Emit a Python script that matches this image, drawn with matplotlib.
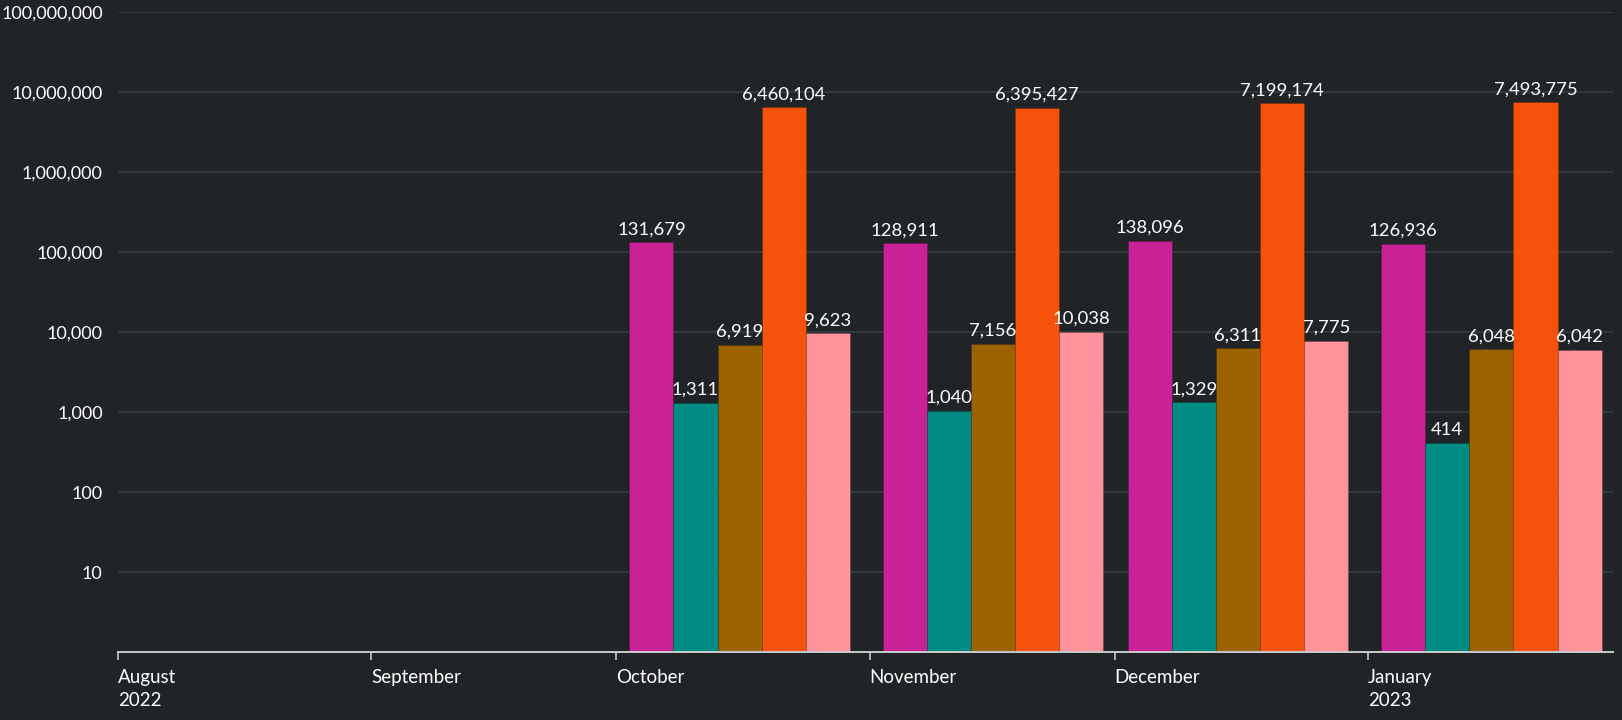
import datetime as dt
import matplotlib
matplotlib.use('Agg')
import matplotlib.pyplot as plt
import matplotlib.dates as mdates
from matplotlib.ticker import FuncFormatter, NullLocator

# data
months = [dt.date(2022, 10, 1), dt.date(2022, 11, 1), dt.date(2022, 12, 1), dt.date(2023, 1, 1)]
series_a = [131679, 128911, 138096, 126936]
series_b = [1311, 1040, 1329, 414]
series_c = [6919, 7156, 6311, 6048]
series_d = [6460104, 6395427, 7199174, 7493775]
series_e = [9623, 10038, 7775, 6042]

tick_months = [dt.date(2022, 8, 1), dt.date(2022, 9, 1), dt.date(2022, 10, 1),
               dt.date(2022, 11, 1), dt.date(2022, 12, 1), dt.date(2023, 1, 1)]
tick_labels = ['August\n2022', 'September', 'October', 'November', 'December', 'January\n2023']

colors = ['#C92196', '#008C82', '#9C6200', '#F6520C', '#FF939B']
bg = '#212427'

plt.rcParams['font.family'] = ['Lato', 'DejaVu Sans']

fig = plt.figure(figsize=(16.22, 7.2), dpi=100, facecolor=bg)
ax = fig.add_axes([0.0727, 0.0944, 0.9218, 0.8889], facecolor=bg)

all_series = [series_a, series_b, series_c, series_d, series_e]
bar_w = 5.4
offset = 1.6
base = [mdates.date2num(m) for m in months]
for i, vals in enumerate(all_series):
    xs = [b + offset + i * bar_w for b in base]
    ax.bar(xs, vals, width=bar_w, align='edge', color=colors[i],
           edgecolor='#00000028', linewidth=0.6, zorder=3)
    for x, v in zip(xs, vals):
        ax.annotate(f'{v:,}', (x + bar_w / 2, v), xytext=(0, 3.5), textcoords='offset points',
                    ha='center', va='bottom', color='white', fontsize=13.3, zorder=4)

ax.set_yscale('log')
ax.set_ylim(1, 1e8)
ax.set_xlim(mdates.date2num(dt.date(2022, 8, 1)), mdates.date2num(dt.date(2023, 1, 31)))

ax.set_yticks([10 ** k for k in range(1, 9)])
ax.yaxis.set_minor_locator(NullLocator())
ax.yaxis.set_major_formatter(FuncFormatter(lambda v, p: f'{v:,.0f}'))
ax.tick_params(axis='y', length=0, pad=11, labelsize=13, labelcolor='white')

ax.set_xticks([mdates.date2num(d) for d in tick_months])
ax.set_xticklabels(tick_labels, ha='left', va='top', linespacing=1.45)
ax.tick_params(axis='x', length=6, width=1.2, color='#C8CBCD', pad=6,
               labelsize=13.5, labelcolor='white')

ax.grid(axis='y', color='#323A3E', linewidth=1.4, zorder=0)
for s in ['top', 'right', 'left']:
    ax.spines[s].set_visible(False)
ax.spines['bottom'].set_color('#C8CBCD')
ax.spines['bottom'].set_linewidth(1.4)
ax.spines['bottom'].set_zorder(5)

fig.savefig('out.png', dpi=100, facecolor=bg)
